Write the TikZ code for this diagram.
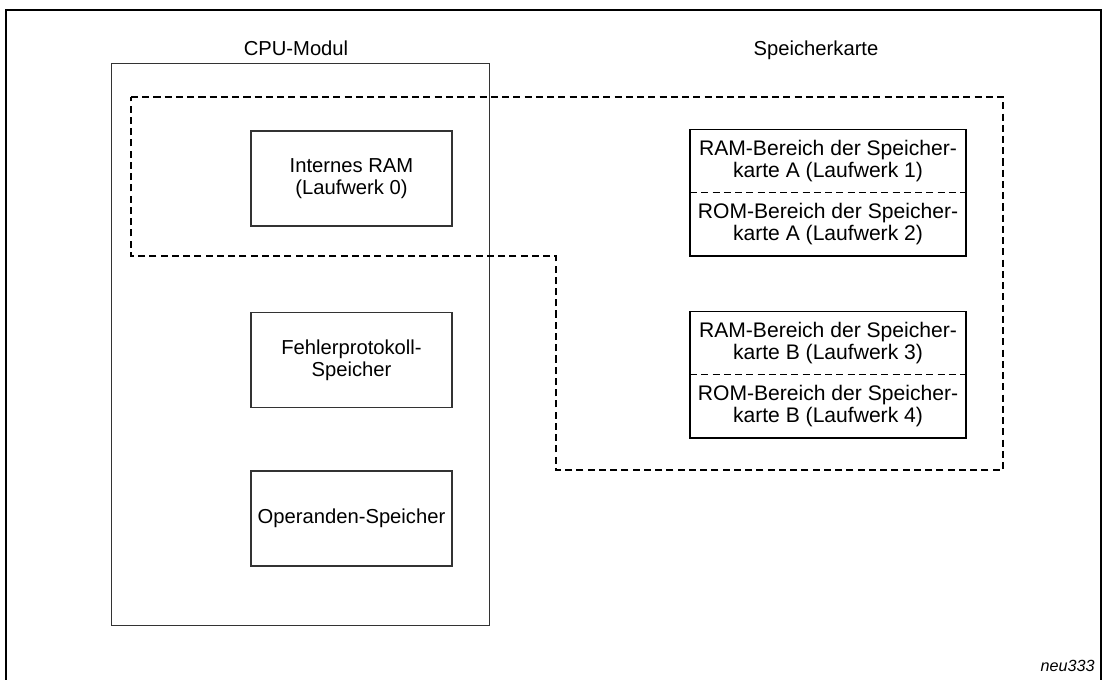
\documentclass[tikz,border=0pt]{standalone}
\usepackage{fontspec}
\setmainfont{Liberation Sans}
\usepackage{tikz}
\usetikzlibrary{positioning}

\tikzset{
  modul/.style={draw=black!80, line width=0.6pt, minimum width=75.6mm, minimum height=112.4mm},
  speicher/.style={draw=black!80, line width=0.6pt, align=center, minimum width=40.2mm, minimum height=19mm},
  bereich/.style={align=center, minimum width=55mm, minimum height=12.5mm, inner sep=0pt,
    font=\fontsize{12pt}{12.2pt}\selectfont},
  karte/.style={line width=1pt},
  trenn/.style={line width=0.8pt, dash pattern=on 4pt off 2.4pt},
  gruppe/.style={line width=0.9pt, dash pattern=on 4pt off 2.4pt},
  titel/.style={inner sep=0pt},
  every node/.style={font=\fontsize{11.5pt}{12.3pt}\selectfont}
}

\begin{document}
\begin{tikzpicture}[x=0.2mm, y=-0.2mm]
    \useasboundingbox (0,0) rectangle (1103,679);
    % Rahmen, unten offen
    \draw[line width=1.3pt] (6,690) -- (6,10) -- (1101,10) -- (1101,690);

    % CPU-Modul
    \node[modul] (cpu) at (300.25,344.5) {};
    \node[titel, anchor=base] (cpulabel) at (296,55) {CPU-Modul};
    \node[speicher] (intram) at (351.5,178.5) {Internes RAM\\(Laufwerk 0)};
    \node[speicher] (fehler) at (351.5,360) {Fehlerprotokoll-\\Speicher};
    \node[speicher] (operand) at (351.5,518.5) {Operanden-Speicher};

    % Speicherkarten A und B
    \node[titel, anchor=base] (kartelabel) at (816,55) {Speicherkarte};
    \node[bereich] (ramA) at (828,161) {RAM-Bereich der Speicher-\\karte A (Laufwerk 1)};
    \node[bereich, below=0pt of ramA] (romA) {ROM-Bereich der Speicher-\\karte A (Laufwerk 2)};
    \node[bereich] (ramB) at (828,343) {RAM-Bereich der Speicher-\\karte B (Laufwerk 3)};
    \node[bereich, below=0pt of ramB] (romB) {ROM-Bereich der Speicher-\\karte B (Laufwerk 4)};
    \draw[karte] (ramA.north west) rectangle (romA.south east);
    \draw[trenn] (ramA.south west) -- (ramA.south east);
    \draw[karte] (ramB.north west) rectangle (romB.south east);
    \draw[trenn] (ramB.south west) -- (ramB.south east);

    % gestrichelte Gruppe
    \coordinate (g1) at (131,97);
    \coordinate (g2) at (1003,97);
    \coordinate (g3) at (1003,470);
    \coordinate (g4) at (556,470);
    \coordinate (g5) at (556,256);
    \coordinate (g6) at (131,256);
    \draw[gruppe] (g1) -- (g2) -- (g3) -- (g4) -- (g5) -- (g6) -- cycle;

    \node[titel, anchor=base east, font=\fontsize{9.2pt}{11pt}\selectfont\itshape] (nummer) at (1095,671) {neu333};
\end{tikzpicture}
\end{document}
